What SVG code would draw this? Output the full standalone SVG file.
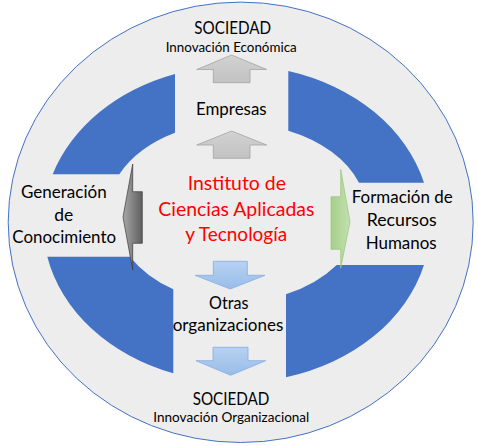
<svg xmlns="http://www.w3.org/2000/svg" width="478" height="446" viewBox="0 0 478 446">
<style>
.t{font-family:Lato,"Liberation Sans",sans-serif;fill:#000;text-anchor:middle}
.m{font-size:16.8px}
.s{font-size:13.4px}
.r{font-size:18.6px;fill:#ff0000}
.blue{fill:#4472c4}
.up{fill:url(#gUp);stroke:#a3a3a3;stroke-width:0.8}
.dn{fill:url(#gDn);stroke:#86ace0;stroke-width:0.8}
</style>
<defs>
<linearGradient id="gUp" x1="0" y1="0" x2="0" y2="1"><stop offset="0" stop-color="#d2d2d2"/><stop offset="1" stop-color="#c2c2c2"/></linearGradient>
<linearGradient id="gDn" x1="0" y1="0" x2="0" y2="1"><stop offset="0" stop-color="#b7d1f1"/><stop offset="1" stop-color="#98bde9"/></linearGradient>
<linearGradient id="gGray" x1="0" y1="0" x2="1" y2="0"><stop offset="0" stop-color="#a8a8a8"/><stop offset="1" stop-color="#5e5e5e"/></linearGradient>
<linearGradient id="gGreen" x1="0" y1="0" x2="1" y2="0"><stop offset="0" stop-color="#a6cf8a"/><stop offset="1" stop-color="#c3e0b0"/></linearGradient>
</defs>
<g id="sociedad-circle">
<ellipse cx="240.7" cy="222.3" rx="232.5" ry="220.2" fill="#ededed" stroke="#4472c4" stroke-width="1"/>
</g>
<g id="ring">
<path class="blue" d="M175,74 A193.5,158 0 0 0 52.7,174.3 L119.3,174.3 A130,91 0 0 1 175,132.7 Z"/>
<path class="blue" d="M288.3,71 A193.5,158 0 0 1 424,182.7 L359,182.7 A130,91 0 0 0 288.3,130.7 Z"/>
<path class="blue" d="M424,265 A193.5,158 0 0 1 286,377.3 L286,294.3 A130,91 0 0 0 336.7,265 Z"/>
<path class="blue" d="M173.3,373.3 A193.5,158 0 0 1 47.3,256.7 L130,256.7 A130,91 0 0 0 173.3,289.3 Z"/>
</g>
<g id="sociedad-top">
<text class="t m" x="232.7" y="34" textLength="76.7" lengthAdjust="spacingAndGlyphs">SOCIEDAD</text>
<text class="t s" x="231.2" y="52.3" textLength="131" lengthAdjust="spacingAndGlyphs">Innovación Económica</text>
</g>
<g id="empresas">
<text class="t m" x="231.3" y="115" textLength="70.7" lengthAdjust="spacingAndGlyphs">Empresas</text>
</g>
<g id="instituto">
<text class="t r" x="236.8" y="190" textLength="98.3" lengthAdjust="spacingAndGlyphs">Instituto de</text>
<text class="t r" x="236.3" y="215.7" textLength="156" lengthAdjust="spacingAndGlyphs">Ciencias Aplicadas</text>
<text class="t r" x="236.2" y="241.3" textLength="102" lengthAdjust="spacingAndGlyphs">y Tecnología</text>
</g>
<g id="generacion">
<text class="t m" x="63.8" y="198.3" textLength="85.7" lengthAdjust="spacingAndGlyphs">Generación</text>
<text class="t m" x="63.8" y="220.6" textLength="19" lengthAdjust="spacingAndGlyphs">de</text>
<text class="t m" x="64.2" y="243" textLength="103.7" lengthAdjust="spacingAndGlyphs">Conocimiento</text>
</g>
<g id="formacion">
<text class="t m" x="402.2" y="203.3" textLength="101" lengthAdjust="spacingAndGlyphs">Formación de</text>
<text class="t m" x="401.7" y="226" textLength="70" lengthAdjust="spacingAndGlyphs">Recursos</text>
<text class="t m" x="401.2" y="248.7" textLength="71" lengthAdjust="spacingAndGlyphs">Humanos</text>
</g>
<g id="otras">
<text class="t m" x="228.7" y="308.7" textLength="39.3" lengthAdjust="spacingAndGlyphs">Otras</text>
<text class="t m" x="228" y="330.7" textLength="110.7" lengthAdjust="spacingAndGlyphs">organizaciones</text>
</g>
<g id="sociedad-bottom">
<text class="t m" x="231" y="404.7" textLength="76.7" lengthAdjust="spacingAndGlyphs">SOCIEDAD</text>
<text class="t s" x="231.3" y="422.3" textLength="156" lengthAdjust="spacingAndGlyphs">Innovación Organizacional</text>
</g>
<g id="connectors">
<path class="up" d="M231.7,55 L266.7,69.5 L250,69.5 L250,82.7 L213.3,82.7 L213.3,69.5 L196.7,69.5 Z"/>
<path class="up" d="M231.7,131 L266.7,145 L250,145 L250,158.3 L213.3,158.3 L213.3,145 L196.7,145 Z"/>
<path class="dn" d="M213.3,261.3 L247.3,261.3 L247.3,275.3 L265,275.3 L230.2,289 L195,275.3 L213.3,275.3 Z"/>
<path class="dn" d="M213,347.3 L248,347.3 L248,360.7 L265.7,360.7 L230.7,375.3 L196,360.7 L213,360.7 Z"/>
<path d="M123,217 L132.7,164 L132.7,191.7 L142.3,191.7 L142.3,243.3 L132.7,243.3 L132.7,270 Z" fill="url(#gGray)" stroke="#3a3a3a" stroke-width="0.7"/>
<path d="M350,221.7 L340.7,169.3 L340.7,196.7 L331,196.7 L331,249.3 L340.7,249.3 L340.7,268.3 Z" fill="url(#gGreen)" stroke="#98c67a" stroke-width="0.7"/>
</g>
</svg>
